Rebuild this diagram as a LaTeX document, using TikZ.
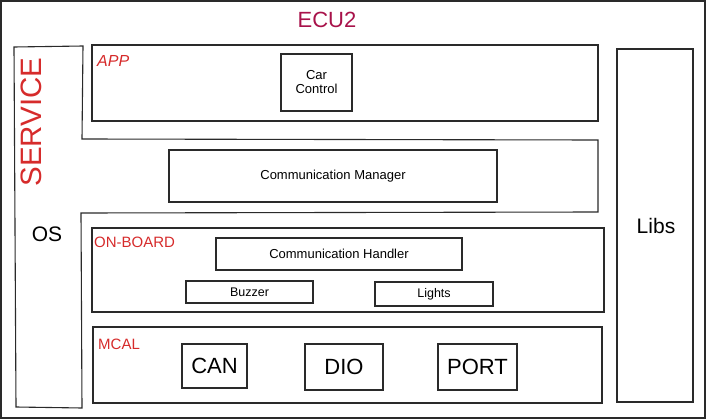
\documentclass[tikz,border=0pt]{standalone}
\usepackage{fontspec}
\setmainfont{Liberation Sans}
\definecolor{ecu}{HTML}{A8124A}
\definecolor{lbl}{HTML}{D62B2B}
\definecolor{ink}{HTML}{2A2A2A}
\begin{document}
\begin{tikzpicture}[x=1pt,y=-1pt,
  box/.style={draw=ink,line width=1.1pt,inner sep=0pt,align=center},
  layer/.style={box},
  small/.style={font=\fontsize{13}{15}\selectfont},
  tiny/.style={font=\fontsize{12.5}{14}\selectfont},
  big/.style={font=\fontsize{22}{24}\selectfont},
  redlbl/.style={text=lbl,anchor=west,inner sep=0pt,font=\fontsize{15}{17}\selectfont}]
\useasboundingbox (0,0) rectangle (707,420);
\draw[ink,line width=1.2pt] (1,1) rectangle (705,418);
\node[text=ecu,font=\fontsize{22}{24}\selectfont] (title) at (327,20) {ECU2};
% service area
\draw[ink,line width=1.1pt] (14,47) -- (83,46) -- (82,139) -- (598,140) -- (598,212) -- (81,213) -- (82,408) -- (16,407) -- cycle;
\node[text=lbl,rotate=90,font=\fontsize{29.5}{31}\selectfont] (service) at (31,122) {SERVICE};
\node[big,font=\fontsize{21}{23}\selectfont] (os) at (47,234) {OS};
% APP
\node[layer,minimum width=506,minimum height=76] (app) at (345,83) {};
\node[redlbl,font=\fontsize{16}{18}\itshape] (applbl) at (97,61) {APP};
\node[box,small,minimum width=71,minimum height=57] (car) at (316.5,82.5) {Car\\[-1pt]Control};
% Communication Manager
\node[box,small,minimum width=328,minimum height=52] (cm) at (333,176) {Communication Manager};
% Libs
\node[box,minimum width=76,minimum height=353] (libs) at (655,225.5) {};
\node[font=\fontsize{21}{23}\selectfont] (libstxt) at (656,226) {Libs};
% ON-BOARD
\node[layer,minimum width=512,minimum height=84] (onb) at (348,270) {};
\node[redlbl] (onblbl) at (94,242) {ON-BOARD};
\node[box,small,minimum width=246,minimum height=32] (ch) at (339,254) {Communication Handler};
\node[box,tiny,minimum width=127,minimum height=22] (buzz) at (249.5,292) {Buzzer};
\node[box,tiny,minimum width=118,minimum height=24] (lights) at (434,294) {Lights};
% MCAL
\node[layer,minimum width=509,minimum height=76] (mcal) at (347.5,365) {};
\node[redlbl] (mcallbl) at (98,344) {MCAL};
\node[box,big,minimum width=65,minimum height=44] (can) at (214.5,366) {CAN};
\node[box,big,minimum width=78,minimum height=46] (dio) at (344,367) {DIO};
\node[box,big,minimum width=79,minimum height=46] (port) at (477.5,367) {PORT};
\end{tikzpicture}
\end{document}
